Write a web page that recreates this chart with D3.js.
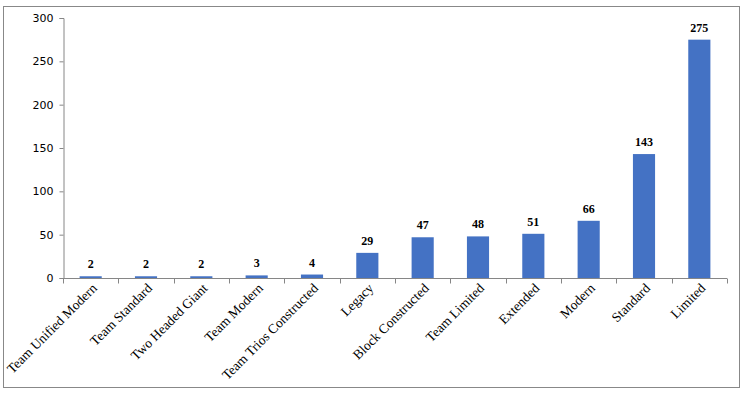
<!DOCTYPE html>
<html>
<head>
<meta charset="utf-8">
<script src="https://cdn.jsdelivr.net/npm/d3@7"></script>
<style>
  body { margin: 0; background: #fff; }
  .ylab text { font-family: Tahoma, Verdana, "DejaVu Sans", sans-serif; font-size: 11px; fill: #000; }
  .xlab text { font-family: "Book Antiqua", Palatino, "Liberation Serif", serif; font-size: 13.5px; fill: #000; }
  .vals { font-family: "Book Antiqua", Palatino, "Liberation Serif", serif; font-size: 12px; font-weight: bold; }
</style>
</head>
<body>
<div id="chart"></div>
<script>
var categories = ["Team Unified Modern", "Team Standard", "Two Headed Giant", "Team Modern",
  "Team Trios Constructed", "Legacy", "Block Constructed", "Team Limited", "Extended",
  "Modern", "Standard", "Limited"];
var counts = [2, 2, 2, 3, 4, 29, 47, 48, 51, 66, 143, 275];
var yTicks = [0, 50, 100, 150, 200, 250, 300];

var width = 746;
var height = 393;

var svg = d3.select( "#chart" )
    .append( "svg" )
    .attr( "width", width )
    .attr( "height", height );

// outer frame
svg.append( "rect" )
    .attr( "x", 3.5 )
    .attr( "y", 6.5 )
    .attr( "width", 736 )
    .attr( "height", 381 )
    .attr( "fill", "#fff" )
    .attr( "stroke", "#888" )
    .attr( "stroke-width", 1 );

var x = d3.scaleBand()
    .domain( categories )
    .range( [63, 727] )
    .paddingInner( 0.6 )
    .paddingOuter( 0.3 );

var y = d3.scaleLinear()
    .domain( [0, 300] )
    .range( [278, 18] );

// bars
svg.append( "g" ).selectAll( "rect" )
    .data( categories )
    .enter()
    .append( "rect" )
    .attr( "x", function(d){ return x(d); } )
    .attr( "y", function(d, i){ return y(counts[i]); } )
    .attr( "width", x.bandwidth() )
    .attr( "height", function(d, i){ return y(0) - y(counts[i]); } )
    .attr( "fill", "#4472c4" );

// y axis
var yAxis = svg.append( "g" )
    .attr( "class", "ylab" )
    .attr( "transform", "translate(63.5,0)" )
    .call( d3.axisLeft( y ).tickValues( yTicks ).tickSize( 4 ).tickPadding( 6 ) );
yAxis.selectAll( "path, line" ).attr( "stroke", "#868686" );

// x axis with ticks between bands
var xAxis = svg.append( "g" )
    .attr( "transform", "translate(0,278.5)" );
xAxis.append( "line" )
    .attr( "x1", 63 ).attr( "x2", 727 )
    .attr( "stroke", "#868686" );
var step = (727 - 63) / categories.length;
xAxis.selectAll( "line.tk" )
    .data( d3.range( categories.length + 1 ) )
    .enter()
    .append( "line" )
    .attr( "class", "tk" )
    .attr( "x1", function(i){ return Math.round(63 + i * step) + 0.5; } )
    .attr( "x2", function(i){ return Math.round(63 + i * step) + 0.5; } )
    .attr( "y1", 0 ).attr( "y2", 5 )
    .attr( "stroke", "#868686" );

svg.append( "g" )
    .attr( "class", "xlab" )
    .selectAll( "text" )
    .data( categories )
    .enter()
    .append( "text" )
    .attr( "text-anchor", "end" )
    .attr( "transform", function(d){
      return "translate(" + (x(d) + x.bandwidth() / 2 + 7) + ",289) rotate(-45)";
    } )
    .text( function(d){ return d; } );

// value labels
svg.append( "g" )
    .attr( "class", "vals" )
    .selectAll( "text" )
    .data( categories )
    .enter()
    .append( "text" )
    .attr( "text-anchor", "middle" )
    .attr( "x", function(d){ return x(d) + x.bandwidth() / 2; } )
    .attr( "y", function(d, i){ return y(counts[i]) - 8; } )
    .text( function(d, i){ return counts[i]; } );
</script>
</body>
</html>
